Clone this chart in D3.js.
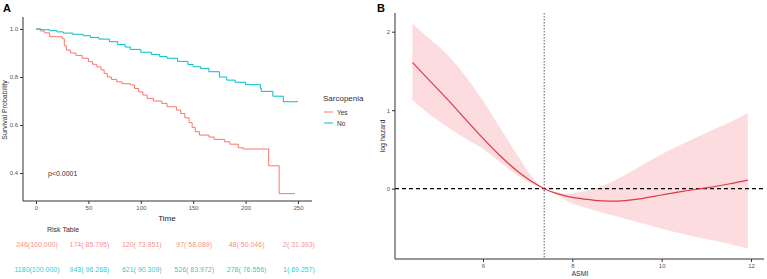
<!DOCTYPE html>
<html>
<head>
<meta charset="utf-8">
<script src="https://cdn.jsdelivr.net/npm/d3@7"></script>
<style>
  body { margin: 0; background: #fff; }
  svg { font-family: "Liberation Sans", Arial, sans-serif; display: block; }
  .axis path, .axis line { stroke: #333; stroke-width: 1; }
  .axis text { fill: #555; font-size: 6px; }
</style>
</head>
<body>
<svg id="chart" width="767" height="279"></svg>
<script>
// ---------- panel A : Kaplan-Meier ----------
var kmTimeYes = [0, 4, 8, 13, 25, 27, 29, 33, 38, 44, 50, 54, 58, 62, 65, 68, 72, 77, 82, 90, 94, 98, 102, 106, 112, 120, 125, 134, 138, 142, 146, 149, 152, 156, 165, 170, 180, 185, 193, 198, 222, 232, 247];
var kmSurvYes = [1, 0.992, 0.984, 0.968, 0.96, 0.93, 0.912, 0.9, 0.89, 0.878, 0.864, 0.853, 0.842, 0.83, 0.815, 0.8, 0.79, 0.78, 0.772, 0.767, 0.752, 0.738, 0.725, 0.711, 0.7, 0.69, 0.676, 0.662, 0.648, 0.63, 0.61, 0.59, 0.572, 0.558, 0.55, 0.54, 0.53, 0.52, 0.505, 0.5, 0.43, 0.314, 0.314];
var kmTimeNo = [0, 5, 13, 20, 26, 35, 45, 52, 60, 70, 78, 85, 90, 100, 110, 118, 125, 135, 145, 150, 157, 165, 175, 182, 190, 200, 214, 215, 226, 236, 250];
var kmSurvNo = [1, 0.997, 0.993, 0.988, 0.983, 0.978, 0.972, 0.965, 0.958, 0.947, 0.935, 0.925, 0.915, 0.903, 0.894, 0.885, 0.878, 0.865, 0.852, 0.843, 0.836, 0.822, 0.8, 0.787, 0.778, 0.768, 0.753, 0.74, 0.72, 0.697, 0.697];
var groups = ["Yes", "No"];
var groupColors = ["#F8766D", "#00BFC4"];
var timeTicks = [0, 50, 100, 150, 200, 250];
var survTicks = [0.4, 0.6, 0.8, 1.0];
var riskYes = ["246(100.000)", "174( 85.795)", "120( 73.951)", "97( 58.089)", "48( 50.046)", "2( 31.393)"];
var riskNo = ["1180(100.000)", "943( 96.268)", "621( 90.309)", "526( 83.972)", "278( 76.556)", "1( 69.257)"];

// ---------- panel B : restricted cubic spline ----------
var asmi = [4.42, 4.8, 5.2, 5.6, 6.0, 6.4, 6.8, 7.1, 7.37, 7.7, 8.0, 8.4, 8.7, 9.1, 9.5, 10.0, 10.5, 11.0, 11.5, 11.93];
var logHazard = [1.61, 1.38, 1.14, 0.89, 0.64, 0.41, 0.21, 0.09, 0, -0.07, -0.11, -0.14, -0.155, -0.155, -0.13, -0.08, -0.03, 0.01, 0.06, 0.11];
var ciUpper = [2.10, 1.91, 1.71, 1.44, 1.12, 0.76, 0.40, 0.15, 0, -0.05, -0.06, -0.01, 0.04, 0.15, 0.28, 0.44, 0.58, 0.71, 0.84, 0.96];
var ciLower = [1.13, 0.95, 0.79, 0.64, 0.51, 0.33, 0.16, 0.06, 0, -0.10, -0.19, -0.26, -0.31, -0.37, -0.43, -0.51, -0.58, -0.64, -0.70, -0.76];
var asmiTicks = [6, 8, 10, 12];
var hazardTicks = [0, 1, 2];
var refAsmi = 7.37;

var svg = d3.select("svg#chart");

//////////////// A
var gA = svg.append("g");
var xA = d3.scaleLinear().domain([0, 250]).range([36, 298]);
var yA = d3.scaleLinear().domain([0.4, 1.0]).range([173, 29]);
var leftA = 23, bottomA = 201, topA = 17, rightA = 312;

gA.append("text").attr("x", 3).attr("y", 12).style("font-size", "11px").style("font-weight", "bold").text("A");

gA.append("g").attr("class", "axis")
  .attr("transform", "translate(0," + bottomA + ")")
  .call(d3.axisBottom(xA).tickValues(timeTicks).tickSize(3).tickPadding(2).tickSizeOuter(0))
  .select("path").attr("d", "M" + leftA + ",0H" + rightA);
gA.append("g").attr("class", "axis")
  .attr("transform", "translate(" + leftA + ",0)")
  .call(d3.axisLeft(yA).tickValues(survTicks).tickFormat(d3.format(".1f")).tickSize(3).tickPadding(2).tickSizeOuter(0))
  .select("path").attr("d", "M0," + topA + "V" + bottomA);

var kmLine = d3.line().x(function(d) { return xA(d[0]); }).y(function(d) { return yA(d[1]); }).curve(d3.curveStepAfter);
var kmData = [d3.zip(kmTimeYes, kmSurvYes), d3.zip(kmTimeNo, kmSurvNo)];
gA.selectAll(".km").data(kmData).enter().append("path")
  .attr("class", "km")
  .attr("d", kmLine)
  .style("fill", "none")
  .style("stroke", function(d, i) { return groupColors[i]; })
  .style("stroke-width", 1);

gA.append("text").attr("transform", "translate(7,110) rotate(-90)")
  .attr("text-anchor", "middle").style("font-size", "7px").style("fill", "#333").text("Survival Probability");
gA.append("text").attr("x", 167).attr("y", 221).attr("text-anchor", "middle")
  .style("font-size", "8px").style("fill", "#222").text("Time");
gA.append("text").attr("x", 48).attr("y", 176).style("font-size", "7px").style("fill", "#333").text("p<0.0001");

// legend
var leg = gA.append("g");
leg.append("text").attr("x", 323).attr("y", 101).style("font-size", "8px").style("fill", "#333").text("Sarcopenia");
groups.forEach(function(g, i) {
  var yy = 112 + i * 11;
  leg.append("line").attr("x1", 324).attr("x2", 333).attr("y1", yy).attr("y2", yy)
    .style("stroke", groupColors[i]).style("stroke-width", 1);
  leg.append("text").attr("x", 337).attr("y", yy + 2.5).style("font-size", "6.5px").style("fill", "#333").text(g);
});

// risk table
gA.append("text").attr("x", 47).attr("y", 232).style("font-size", "7px").style("fill", "#333").text("Risk Table");
[riskYes, riskNo].forEach(function(row, r) {
  gA.selectAll(".risk" + r).data(row).enter().append("text")
    .attr("class", "risk" + r)
    .attr("x", function(d, i) { return xA(timeTicks[i]) + 1; })
    .attr("y", 247 + r * 25)
    .attr("text-anchor", "middle")
    .style("font-size", "7px")
    .style("fill", groupColors[r])
    .style("fill-opacity", 0.85)
    .text(function(d) { return d; });
});

//////////////// B
var gB = svg.append("g");
var xB = d3.scaleLinear().domain([6, 12]).range([483, 751]);
var yB = d3.scaleLinear().domain([0, 2]).range([188.7, 31.7]);
var leftB = 395, bottomB = 259, topB = 13, rightB = 764;

gB.append("text").attr("x", 377).attr("y", 12).style("font-size", "11px").style("font-weight", "bold").text("B");

var band = d3.area()
  .x(function(d, i) { return xB(asmi[i]); })
  .y0(function(d, i) { return yB(ciLower[i]); })
  .y1(function(d, i) { return yB(ciUpper[i]); })
  .curve(d3.curveCatmullRom.alpha(0.5));
gB.append("path").datum(asmi).attr("d", band).style("fill", "#fcdcdf").style("stroke", "none");

gB.append("line").attr("x1", leftB).attr("x2", rightB).attr("y1", yB(0)).attr("y2", yB(0))
  .style("stroke", "#000").style("stroke-width", 1.2).style("stroke-dasharray", "4,3");
gB.append("line").attr("x1", xB(refAsmi)).attr("x2", xB(refAsmi)).attr("y1", topB).attr("y2", bottomB)
  .style("stroke", "#333").style("stroke-width", 0.8).style("stroke-dasharray", "1.5,1.5");

var hzLine = d3.line()
  .x(function(d, i) { return xB(asmi[i]); })
  .y(function(d, i) { return yB(logHazard[i]); })
  .curve(d3.curveCatmullRom.alpha(0.5));
gB.append("path").datum(asmi).attr("d", hzLine).style("fill", "none").style("stroke", "#dc3a45").style("stroke-width", 1.2);

gB.append("g").attr("class", "axis")
  .attr("transform", "translate(0," + bottomB + ")")
  .call(d3.axisBottom(xB).tickValues(asmiTicks).tickFormat(d3.format("d")).tickSize(3).tickPadding(2).tickSizeOuter(0))
  .select("path").attr("d", "M" + leftB + ",0H" + rightB);
gB.append("g").attr("class", "axis")
  .attr("transform", "translate(" + leftB + ",0)")
  .call(d3.axisLeft(yB).tickValues(hazardTicks).tickFormat(d3.format("d")).tickSize(3).tickPadding(2).tickSizeOuter(0))
  .select("path").attr("d", "M0," + topB + "V" + bottomB);

gB.append("text").attr("transform", "translate(385,136) rotate(-90)")
  .attr("text-anchor", "middle").style("font-size", "7px").style("fill", "#333").text("log hazard");
gB.append("text").attr("x", 580).attr("y", 276).attr("text-anchor", "middle")
  .style("font-size", "7px").style("fill", "#333").text("ASMI");
</script>
</body>
</html>
